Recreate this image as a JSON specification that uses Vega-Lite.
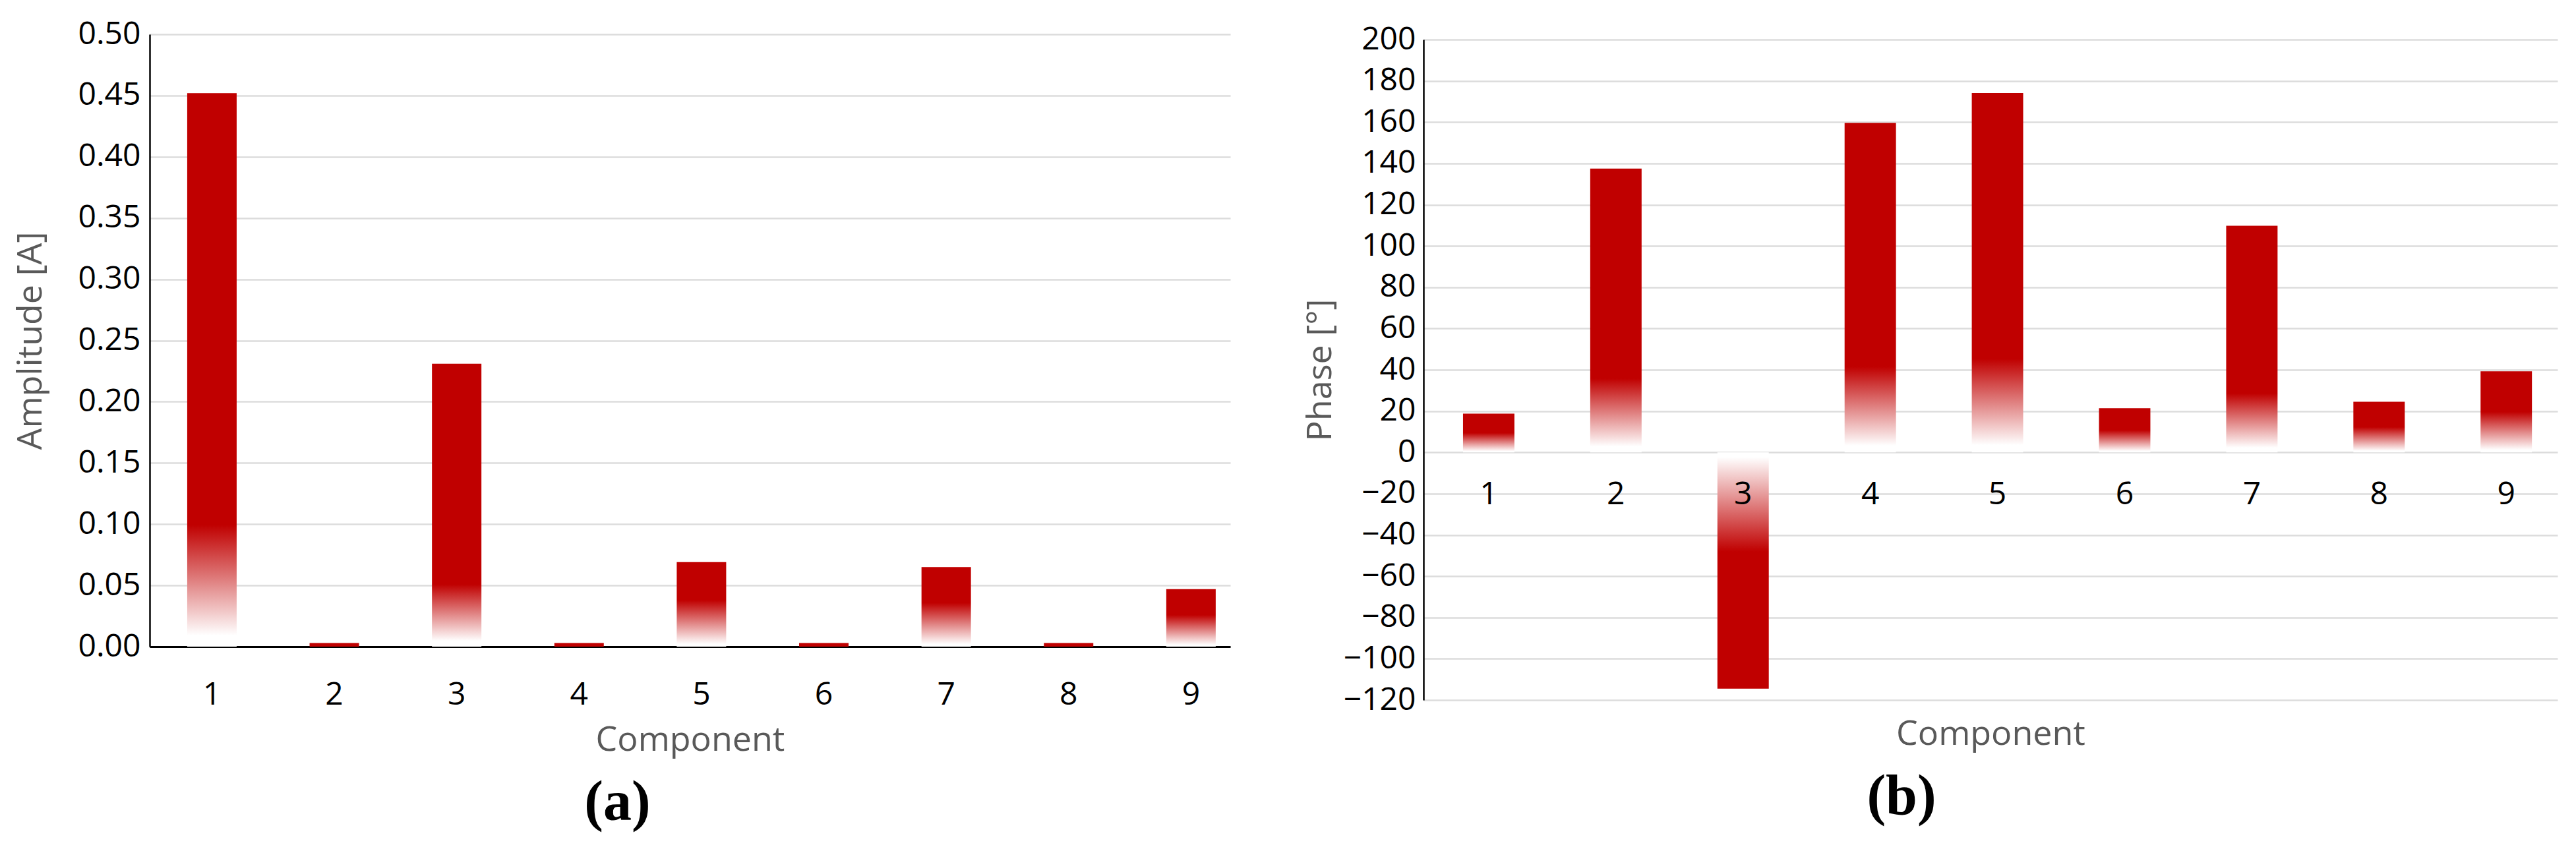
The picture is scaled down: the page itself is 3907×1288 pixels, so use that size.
{
  "$schema": "https://vega.github.io/schema/vega-lite/v6.json",
  "background": "white",
  "padding": {"left": 20, "top": 28, "right": 5, "bottom": 5},
  "spacing": 110,
  "config": {
    "view": {"stroke": null},
    "font": "Open Sans",
    "axis": {
      "labelFont": "Open Sans",
      "titleFont": "Open Sans",
      "labelColor": "#000000",
      "titleColor": "#595959",
      "labelFontSize": 48,
      "titleFontSize": 52,
      "titleFontWeight": "normal",
      "gridColor": "#dcdcdc",
      "gridWidth": 2.5,
      "domainColor": "#000000",
      "ticks": false,
      "tickSize": 0
    }
  },
  "datasets": {
    "amp": [
      {"component": 1, "amplitude": 0.452},
      {"component": 2, "amplitude": 0.003},
      {"component": 3, "amplitude": 0.231},
      {"component": 4, "amplitude": 0.003},
      {"component": 5, "amplitude": 0.069},
      {"component": 6, "amplitude": 0.003},
      {"component": 7, "amplitude": 0.065},
      {"component": 8, "amplitude": 0.003},
      {"component": 9, "amplitude": 0.047}
    ],
    "phase": [
      {"component": 1, "phase": 18.8},
      {"component": 2, "phase": 137.5},
      {"component": 3, "phase": -114.5},
      {"component": 4, "phase": 159.6},
      {"component": 5, "phase": 174.1},
      {"component": 6, "phase": 21.4},
      {"component": 7, "phase": 109.8},
      {"component": 8, "phase": 24.5},
      {"component": 9, "phase": 39.3}
    ]
  },
  "hconcat": [
    {
      "width": 1639,
      "height": 929,
      "data": {"name": "amp"},
      "title": {"text": "(a)", "orient": "bottom", "anchor": "middle", "frame": "group", "dx": -110, "offset": 28, "font": "Liberation Serif", "fontSize": 86, "fontWeight": "bold", "color": "#000000"},
      "mark": {"type": "bar"},
      "encoding": {
        "x": {
          "field": "component", "type": "ordinal",
          "scale": {"paddingInner": 0.596, "paddingOuter": 0.213, "align": 0.72},
          "axis": {"title": "Component", "labelAngle": 0, "labelPadding": 49, "titlePadding": 19, "domainWidth": 3, "grid": false}
        },
        "y": {
          "field": "amplitude", "type": "quantitative",
          "scale": {"domain": [0, 0.5], "nice": false},
          "axis": {"title": "Amplitude [A]", "values": [0, 0.05, 0.1, 0.15, 0.2, 0.25, 0.3, 0.35, 0.4, 0.45, 0.5], "format": ".2f", "labelPadding": 14, "titlePadding": 45, "domainWidth": 2.5, "grid": true}
        },
        "fill": {
          "condition": [
            {"test": "datum.amplitude < 0.01", "value": "#c00000"},
            {"test": "datum.amplitude > 0.2", "value": {"gradient": "linear", "x1": 0, "y1": 0, "x2": 0, "y2": 1, "stops": [{"offset": 0, "color": "#c00000"}, {"offset": 0.78, "color": "#c00000"}, {"offset": 0.98, "color": "#ffffff"}]}}
          ],
          "value": {"gradient": "linear", "x1": 0, "y1": 0, "x2": 0, "y2": 1, "stops": [{"offset": 0, "color": "#c00000"}, {"offset": 0.45, "color": "#c00000"}, {"offset": 0.97, "color": "#ffffff"}]}
        }
      }
    },
    {
      "width": 1720,
      "height": 1010,
      "data": {"name": "phase"},
      "title": {"text": "(b)", "orient": "bottom", "anchor": "middle", "frame": "group", "dx": -135, "offset": 28, "font": "Liberation Serif", "fontSize": 86, "fontWeight": "bold", "color": "#000000"},
      "encoding": {
        "x": {
          "field": "component", "type": "ordinal",
          "scale": {"paddingInner": 0.596, "paddingOuter": 0.256, "align": 0.607},
          "axis": {"title": "Component", "labels": false, "domain": false, "titlePadding": 26, "grid": false}
        }
      },
      "layer": [
        {
          "mark": {"type": "bar"},
          "encoding": {
            "y": {
              "field": "phase", "type": "quantitative",
              "scale": {"domain": [-120, 200], "nice": false, "range": [1010, 8]},
              "axis": {"title": "Phase [°]", "values": [-120, -100, -80, -60, -40, -20, 0, 20, 40, 60, 80, 100, 120, 140, 160, 180, 200], "labelPadding": 12, "titlePadding": 8, "domainWidth": 2.5, "grid": true}
            },
            "fill": {
              "condition": [
                {"test": "datum.phase < 0", "value": {"gradient": "linear", "x1": 0, "y1": 1, "x2": 0, "y2": 0, "stops": [{"offset": 0, "color": "#c00000"}, {"offset": 0.58, "color": "#c00000"}, {"offset": 0.98, "color": "#ffffff"}]}},
                {"test": "datum.phase > 100", "value": {"gradient": "linear", "x1": 0, "y1": 0, "x2": 0, "y2": 1, "stops": [{"offset": 0, "color": "#c00000"}, {"offset": 0.74, "color": "#c00000"}, {"offset": 0.98, "color": "#ffffff"}]}}
              ],
              "value": {"gradient": "linear", "x1": 0, "y1": 0, "x2": 0, "y2": 1, "stops": [{"offset": 0, "color": "#c00000"}, {"offset": 0.5, "color": "#c00000"}, {"offset": 0.97, "color": "#ffffff"}]}
            }
          }
        },
        {
          "mark": {"type": "rule", "color": "#000000", "strokeWidth": 3},
          "encoding": {"y": {"datum": 0}}
        },
        {
          "mark": {"type": "text", "fontSize": 48, "font": "Open Sans", "color": "#000000", "baseline": "middle", "dy": 65},
          "encoding": {
            "y": {"datum": 0},
            "text": {"field": "component", "type": "ordinal"}
          }
        }
      ]
    }
  ]
}
